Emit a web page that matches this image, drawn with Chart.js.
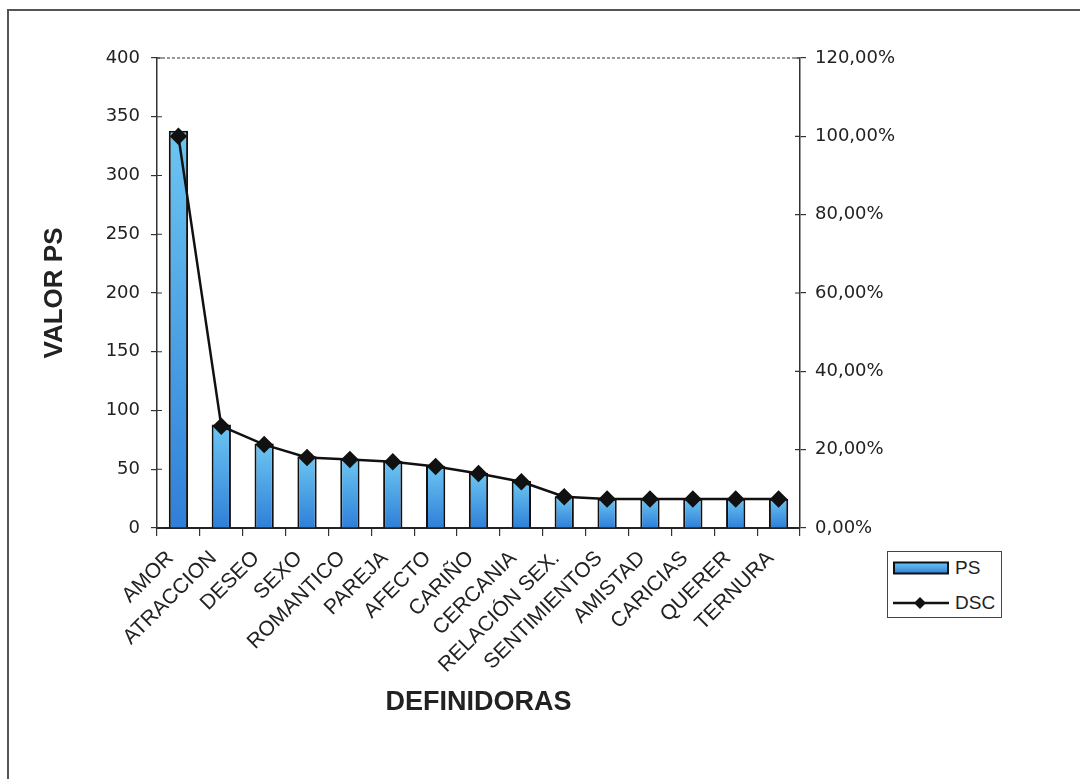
<!DOCTYPE html>
<html>
<head>
<meta charset="utf-8">
<script src="https://cdn.jsdelivr.net/npm/chart.js@4/dist/chart.umd.min.js"></script>
<style>
  html, body { margin: 0; padding: 0; background: #fff; }
  body { width: 1080px; height: 779px; position: relative; overflow: hidden; font-family: "Liberation Sans", Arial, sans-serif; }
  #frame { position: absolute; left: 7px; top: 9px; width: 1100px; height: 800px; border-left: 2px solid #555; border-top: 2px solid #555; }
  #myChart { position: absolute; left: 0; top: 0; }
  #legend { position: absolute; left: 887px; top: 551px; width: 113px; height: 65px; border: 1.5px solid #444; background: #fff; color: #222; font-size: 19px; }
  .row { position: absolute; left: 5px; height: 20px; display: flex; align-items: center; }
  .row span { margin-left: 6px; }
</style>
</head>
<body>
<div id="frame"></div>
<canvas id="myChart" width="1080" height="779"></canvas>
<div id="legend">
  <div class="row" style="top: 6px;">
    <svg width="56" height="14"><defs><linearGradient id="g" x1="0" y1="0" x2="0" y2="1"><stop offset="0" stop-color="#6cc6f2"/><stop offset="1" stop-color="#2f7fd8"/></linearGradient></defs><rect x="1" y="1.5" width="54" height="11" fill="url(#g)" stroke="#111" stroke-width="2"/></svg>
    <span>PS</span>
  </div>
  <div class="row" style="top: 41px;">
    <svg width="56" height="16"><line x1="0" y1="8" x2="56" y2="8" stroke="#111" stroke-width="2.5"/><polygon points="27,2 33,8 27,14 21,8" fill="#111"/></svg>
    <span>DSC</span>
  </div>
</div>
<script>
const categories = ['AMOR', 'ATRACCION', 'DESEO', 'SEXO', 'ROMANTICO', 'PAREJA', 'AFECTO', 'CARIÑO',
  'CERCANIA', 'RELACIÓN SEX.', 'SENTIMIENTOS', 'AMISTAD', 'CARICIAS', 'QUERER', 'TERNURA'];
const psValues = [338, 88, 72, 61, 59, 57, 53, 47, 40, 27, 25, 25, 25, 25, 25];
const dscValues = [100, 26.0, 21.3, 18.0, 17.5, 16.9, 15.7, 13.9, 11.8, 8.0, 7.4, 7.4, 7.4, 7.4, 7.4];
const leftTicks = [0, 50, 100, 150, 200, 250, 300, 350, 400];
const rightTicks = [0, 20, 40, 60, 80, 100, 120];

const textColor = '#222';
const tickFont = { family: '"DejaVu Sans", sans-serif', size: 18 };
const labelFont = { family: '"Liberation Sans", Arial, sans-serif', size: 21 };
const titleFont = { family: '"Liberation Sans", Arial, sans-serif', size: 26, weight: 'bold' };

// bars get their own top-to-bottom gradient
function barGradient(context) {
  const chart = context.chart;
  const y = chart.scales.y;
  if (!chart.chartArea || !y) return '#3f98e2';
  const top = y.getPixelForValue(context.raw);
  const base = y.getPixelForValue(0);
  const g = chart.ctx.createLinearGradient(0, top, 0, base);
  g.addColorStop(0, '#6cc6f2');
  g.addColorStop(1, '#2f7fd8');
  return g;
}

// plot frame top line + inner halves of the axis tick marks
const plotFrame = {
  id: 'plotFrame',
  beforeDatasetsDraw(chart) {
    const { ctx, chartArea: a, scales } = chart;
    ctx.save();
    ctx.strokeStyle = '#777';
    ctx.lineWidth = 1.5;
    ctx.setLineDash([3, 2]);
    ctx.beginPath();
    ctx.moveTo(a.left, a.top);
    ctx.lineTo(a.right, a.top);
    ctx.stroke();
    ctx.setLineDash([]);
    ctx.strokeStyle = '#333';
    ctx.lineWidth = 1.2;
    ctx.beginPath();
    scales.y.ticks.forEach((t, i) => {
      const py = scales.y.getPixelForTick(i);
      ctx.moveTo(a.left, py);
      ctx.lineTo(a.left + 5, py);
    });
    scales.y1.ticks.forEach((t, i) => {
      const py = scales.y1.getPixelForTick(i);
      ctx.moveTo(a.right, py);
      ctx.lineTo(a.right - 5, py);
    });
    ctx.stroke();
    ctx.restore();
  }
};

new Chart(document.getElementById('myChart').getContext('2d'), {
  data: {
    labels: categories,
    datasets: [
      {
        type: 'line',
        label: 'DSC',
        data: dscValues,
        yAxisID: 'y1',
        borderColor: '#111',
        backgroundColor: '#111',
        borderWidth: 2.5,
        pointStyle: 'rectRot',
        pointRadius: 7,
        pointBackgroundColor: '#111',
        pointBorderColor: '#111',
        tension: 0,
        order: 0
      },
      {
        type: 'bar',
        label: 'PS',
        data: psValues,
        yAxisID: 'y',
        backgroundColor: barGradient,
        borderColor: '#111',
        borderWidth: 2,
        barPercentage: 0.45,
        categoryPercentage: 1,
        order: 1
      }
    ]
  },
  options: {
    responsive: false,
    animation: false,
    layout: { padding: { left: 39, top: 58, right: 0, bottom: 60 } },
    plugins: { legend: { display: false }, tooltip: { enabled: false } },
    scales: {
      x: {
        offset: true,
        grid: { offset: true, drawOnChartArea: false, tickLength: 8, color: '#333', lineWidth: 1.2 },
        border: { color: '#222', width: 2 },
        ticks: { color: textColor, font: labelFont, minRotation: 45, maxRotation: 45, autoSkip: false, padding: 10, labelOffset: -8 },
        title: { display: true, text: 'DEFINIDORAS', color: textColor, font: { ...titleFont, size: 27 }, padding: { top: 0, bottom: 0 } },
        afterFit(scale) { scale.height = 779 - 60 - 528; }
      },
      y: {
        position: 'left',
        min: 0,
        max: 400,
        afterBuildTicks(scale) { scale.ticks = leftTicks.map(v => ({ value: v })); },
        grid: { drawOnChartArea: false, tickLength: 6, color: '#333', lineWidth: 1.2 },
        border: { color: '#333', width: 1.5 },
        ticks: { color: textColor, font: tickFont, padding: 11 },
        title: { display: true, text: 'VALOR PS', color: textColor, font: titleFont, padding: 0 },
        afterFit(scale) { scale.width = 157 - 39; }
      },
      y1: {
        position: 'right',
        min: 0,
        max: 120,
        afterBuildTicks(scale) { scale.ticks = rightTicks.map(v => ({ value: v })); },
        grid: { drawOnChartArea: false, tickLength: 6, color: '#333', lineWidth: 1.2 },
        border: { color: '#333', width: 1.5 },
        ticks: {
          color: textColor, font: tickFont, padding: 9,
          callback: v => v.toFixed(2).replace('.', ',') + '%'
        },
        afterFit(scale) { scale.width = 1080 - 800; }
      }
    }
  },
  plugins: [plotFrame]
});
</script>
</body>
</html>
